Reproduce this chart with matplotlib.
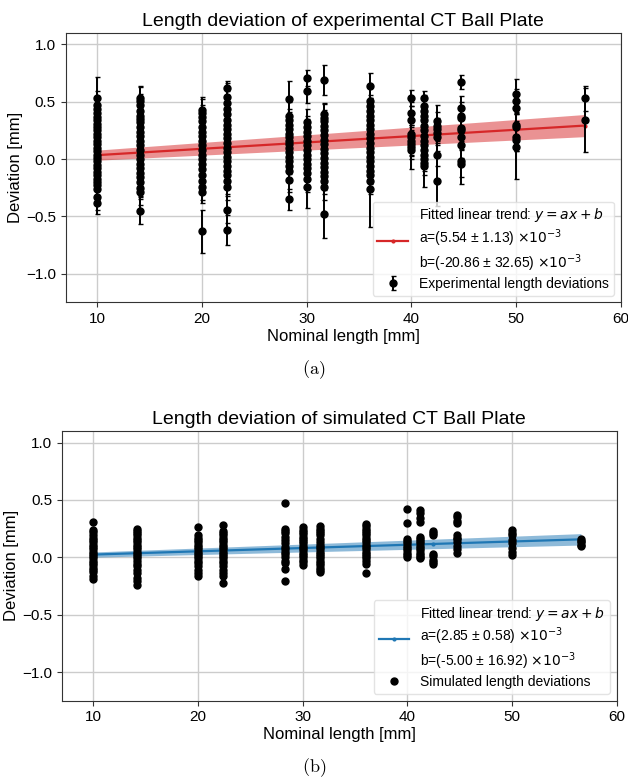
import numpy as np
import matplotlib.pyplot as plt

plt.rcParams['font.family'] = ['Liberation Sans', 'DejaVu Sans']
plt.rcParams['mathtext.fontset'] = 'dejavusans'

# nominal lengths of the ball plate distances [mm]
nominal = [10.0, 14.14, 20.0, 22.36, 28.28, 30.0, 31.62, 36.06, 40.0, 41.23, 42.43, 44.72, 50.0, 56.57]

# experimental deviations [mm], one list per nominal length
exp_dev = [
    [0.53, 0.47, 0.44, 0.40, 0.37, 0.34, 0.31, 0.28, 0.25, 0.22, 0.19, 0.16, 0.13, 0.10, 0.07, 0.04, 0.01,
     -0.02, -0.05, -0.08, -0.11, -0.14, -0.17, -0.20, -0.23, -0.26, -0.33, -0.38],
    [0.53, 0.51, 0.47, 0.42, 0.38, 0.35, 0.32, 0.28, 0.24, 0.20, 0.16, 0.12, 0.08, 0.04, 0.00, -0.04, -0.08,
     -0.12, -0.16, -0.20, -0.25, -0.29, -0.45],
    [0.43, 0.40, 0.37, 0.33, 0.28, 0.24, 0.20, 0.16, 0.12, 0.08, 0.04, 0.00, -0.04, -0.09, -0.14, -0.19, -0.24,
     -0.29, -0.63],
    [0.62, 0.54, 0.49, 0.44, 0.39, 0.34, 0.30, 0.26, 0.22, 0.18, 0.14, 0.10, 0.06, 0.02, -0.02, -0.06, -0.10,
     -0.14, -0.19, -0.24, -0.44, -0.62],
    [0.52, 0.38, 0.34, 0.30, 0.26, 0.22, 0.19, 0.16, 0.13, 0.10, 0.06, 0.02, -0.02, -0.06, -0.10, -0.18, -0.35],
    [0.71, 0.59, 0.32, 0.28, 0.24, 0.20, 0.16, 0.12, 0.08, 0.04, 0.00, -0.04, -0.08, -0.12, -0.17, -0.24],
    [0.69, 0.39, 0.36, 0.33, 0.29, 0.25, 0.21, 0.17, 0.13, 0.09, 0.05, 0.01, -0.03, -0.07, -0.11, -0.15, -0.19,
     -0.24, -0.48],
    [0.64, 0.51, 0.46, 0.42, 0.38, 0.34, 0.30, 0.26, 0.22, 0.18, 0.14, 0.10, 0.06, 0.02, -0.02, -0.06, -0.10,
     -0.14, -0.19, -0.26],
    [0.53, 0.40, 0.34, 0.22, 0.19, 0.16, 0.13, 0.11, 0.08],
    [0.53, 0.46, 0.42, 0.38, 0.34, 0.29, 0.25, 0.20, 0.16, 0.12, 0.08, 0.04, 0.00, -0.03, -0.06],
    [0.33, 0.29, 0.26, 0.23, 0.19, 0.04, -0.19],
    [0.67, 0.45, 0.38, 0.36, 0.27, 0.25, 0.19, 0.12, -0.02, -0.04],
    [0.57, 0.51, 0.45, 0.30, 0.28, 0.19, 0.17, 0.11],
    [0.53, 0.34],
]

# uncertainty of each experimental deviation [mm]
exp_err = [
    [0.19, 0.12, 0.11, 0.12, 0.10, 0.11, 0.12, 0.10, 0.11, 0.12, 0.10, 0.11, 0.12, 0.10, 0.11, 0.12, 0.10,
     0.11, 0.12, 0.10, 0.11, 0.12, 0.10, 0.11, 0.12, 0.10, 0.11, 0.10],
    [0.11, 0.12, 0.10, 0.11, 0.12, 0.10, 0.11, 0.12, 0.10, 0.11, 0.12, 0.10, 0.11, 0.12, 0.10, 0.11, 0.12,
     0.10, 0.11, 0.12, 0.10, 0.11, 0.12],
    [0.11, 0.12, 0.10, 0.11, 0.12, 0.10, 0.11, 0.12, 0.10, 0.11, 0.12, 0.10, 0.11, 0.12, 0.10, 0.11, 0.12,
     0.09, 0.19],
    [0.06, 0.12, 0.10, 0.11, 0.12, 0.10, 0.11, 0.12, 0.10, 0.11, 0.12, 0.10, 0.11, 0.12, 0.10, 0.11, 0.12,
     0.10, 0.11, 0.12, 0.12, 0.13],
    [0.16, 0.12, 0.10, 0.11, 0.12, 0.10, 0.11, 0.12, 0.10, 0.11, 0.12, 0.10, 0.11, 0.12, 0.10, 0.11, 0.09],
    [0.07, 0.10, 0.12, 0.10, 0.11, 0.12, 0.10, 0.11, 0.12, 0.10, 0.11, 0.12, 0.10, 0.11, 0.12, 0.19],
    [0.13, 0.10, 0.12, 0.10, 0.11, 0.12, 0.10, 0.11, 0.12, 0.10, 0.11, 0.12, 0.10, 0.11, 0.12, 0.10, 0.11,
     0.12, 0.21],
    [0.11, 0.12, 0.10, 0.11, 0.12, 0.10, 0.11, 0.12, 0.10, 0.11, 0.12, 0.10, 0.11, 0.12, 0.10, 0.11, 0.12,
     0.10, 0.11, 0.33],
    [0.07, 0.10, 0.12, 0.10, 0.11, 0.12, 0.10, 0.11, 0.17],
    [0.06, 0.10, 0.12, 0.10, 0.11, 0.12, 0.10, 0.11, 0.12, 0.10, 0.11, 0.12, 0.10, 0.11, 0.18],
    [0.14, 0.12, 0.10, 0.11, 0.12, 0.10, 0.22],
    [0.06, 0.10, 0.12, 0.10, 0.11, 0.12, 0.10, 0.11, 0.20, 0.12],
    [0.13, 0.10, 0.12, 0.10, 0.11, 0.12, 0.10, 0.28],
    [0.11, 0.28],
]

# simulated deviations [mm], one list per nominal length
sim_dev = [
    [0.31, 0.24, 0.22, 0.19, 0.17, 0.15, 0.13, 0.11, 0.09, 0.07, 0.05, 0.03, 0.01, -0.01, -0.03, -0.05, -0.07,
     -0.09, -0.11, -0.13, -0.16, -0.19],
    [0.25, 0.23, 0.21, 0.19, 0.17, 0.15, 0.13, 0.11, 0.09, 0.07, 0.05, 0.03, 0.01, -0.01, -0.03, -0.06, -0.08,
     -0.11, -0.14, -0.18, -0.21, -0.24],
    [0.26, 0.19, 0.17, 0.15, 0.13, 0.11, 0.09, 0.07, 0.05, 0.03, 0.01, -0.01, -0.03, -0.05, -0.08, -0.11,
     -0.14, -0.16],
    [0.28, 0.23, 0.21, 0.19, 0.17, 0.15, 0.13, 0.11, 0.09, 0.07, 0.05, 0.03, 0.01, -0.01, -0.03, -0.05, -0.08,
     -0.11, -0.14, -0.16, -0.22],
    [0.47, 0.25, 0.23, 0.21, 0.18, 0.15, 0.12, 0.09, 0.07, 0.05, 0.03, 0.00, -0.03, -0.05, -0.10, -0.21],
    [0.26, 0.24, 0.22, 0.20, 0.18, 0.16, 0.14, 0.12, 0.10, 0.08, 0.06, 0.04, 0.02, 0.00, -0.02, -0.04, -0.07],
    [0.27, 0.25, 0.23, 0.21, 0.19, 0.16, 0.13, 0.11, 0.09, 0.07, 0.05, 0.03, 0.01, -0.01, -0.03, -0.05, -0.07,
     -0.09, -0.11, -0.13],
    [0.29, 0.27, 0.25, 0.23, 0.21, 0.19, 0.17, 0.15, 0.13, 0.11, 0.09, 0.07, 0.05, 0.03, 0.01, -0.01, -0.03,
     -0.06, -0.14],
    [0.42, 0.30, 0.16, 0.14, 0.12, 0.10, 0.08, 0.06, 0.04, 0.02, 0.00],
    [0.41, 0.39, 0.34, 0.31, 0.18, 0.16, 0.14, 0.12, 0.10, 0.08, 0.06, 0.04, 0.02, 0.00, -0.01],
    [0.23, 0.21, 0.19, 0.03, 0.01, -0.02, -0.04, -0.06],
    [0.37, 0.35, 0.32, 0.30, 0.19, 0.17, 0.16, 0.13, 0.10, 0.07, 0.04],
    [0.24, 0.21, 0.19, 0.15, 0.12, 0.08, 0.05, 0.02],
    [0.16, 0.14, 0.13, 0.11, 0.10],
]

# fit results (slope, intercept) and their uncertainties, x1e-3
exp_fit = [5.54, -20.86]
exp_fit_err = [1.13, 32.65]
sim_fit = [2.85, -5.00]
sim_fit_err = [0.58, 16.92]


def flat(groups):
    xs, ys = [], []
    for x, g in zip(nominal, groups):
        xs += [x] * len(g)
        ys += list(g)
    return np.array(xs), np.array(ys)


def fit_panel(ax, fit, fit_err, color):
    x = np.array(nominal)
    a, b = fit[0] * 1e-3, fit[1] * 1e-3
    da, db = fit_err[0] * 1e-3, fit_err[1] * 1e-3
    label = ('Fitted linear trend: $y = ax + b$\n'
             'a=(%.2f ± %.2f) $\\times 10^{-3}$\n'
             'b=(%.2f ± %.2f) $\\times 10^{-3}$' % (fit[0], fit_err[0], fit[1], fit_err[1]))
    ax.fill_between(x, (a - da) * x + (b - db), (a + da) * x + (b + db), color=color, alpha=0.5, lw=0, zorder=2)
    ax.plot(x, a * x + b, '.-', color=color, lw=1.6, ms=4, label=label, zorder=2.5)


def style(ax, title):
    ax.set_xlim(7, 60)
    ax.set_ylim(-1.25, 1.1)
    ax.set_xticks([10, 20, 30, 40, 50, 60])
    ax.set_yticks([-1.0, -0.5, 0.0, 0.5, 1.0])
    ax.grid(True, color='#cccccc', lw=1)
    ax.set_axisbelow(True)
    for s in ax.spines.values():
        s.set_color('#333333')
    ax.tick_params(labelsize=11, color='#333333')
    ax.set_title(title, fontsize=14, pad=5)
    ax.set_xlabel('Nominal length [mm]', fontsize=12, labelpad=2)
    ax.set_ylabel('Deviation [mm]', fontsize=12, labelpad=2)
    ax.legend(loc='lower right', fontsize=10, framealpha=0.8, edgecolor='#dddddd',
              handlelength=2.2, borderpad=0.35, labelspacing=0.2)


fig = plt.figure(figsize=(6.28, 7.83), dpi=100)
ax1 = fig.add_axes([0.1046, 0.6137, 0.8838, 0.3442])
ax2 = fig.add_axes([0.0986, 0.1051, 0.8836, 0.3444])

# (a) experimental
fit_panel(ax1, exp_fit, exp_fit_err, '#d62728')
xe, ye = flat(exp_dev)
_, ee = flat(exp_err)
ax1.errorbar(xe, ye, yerr=ee, fmt='o', color='black', ms=5, elinewidth=1.4, capsize=1.8,
             label='Experimental length deviations', zorder=3)
style(ax1, 'Length deviation of experimental CT Ball Plate')

# (b) simulated
fit_panel(ax2, sim_fit, sim_fit_err, '#1f77b4')
xs, ys = flat(sim_dev)
ax2.plot(xs, ys, 'o', color='black', ms=5, label='Simulated length deviations', zorder=3)
style(ax2, 'Length deviation of simulated CT Ball Plate')

fig.text(0.5, 1 - 370 / 783, r'$\mathrm{(a)}$', ha='center', va='center', fontsize=13,
         math_fontfamily='cm')
fig.text(0.5, 1 - 768 / 783, r'$\mathrm{(b)}$', ha='center', va='center', fontsize=13,
         math_fontfamily='cm')

fig.savefig('out.png', dpi=100)
